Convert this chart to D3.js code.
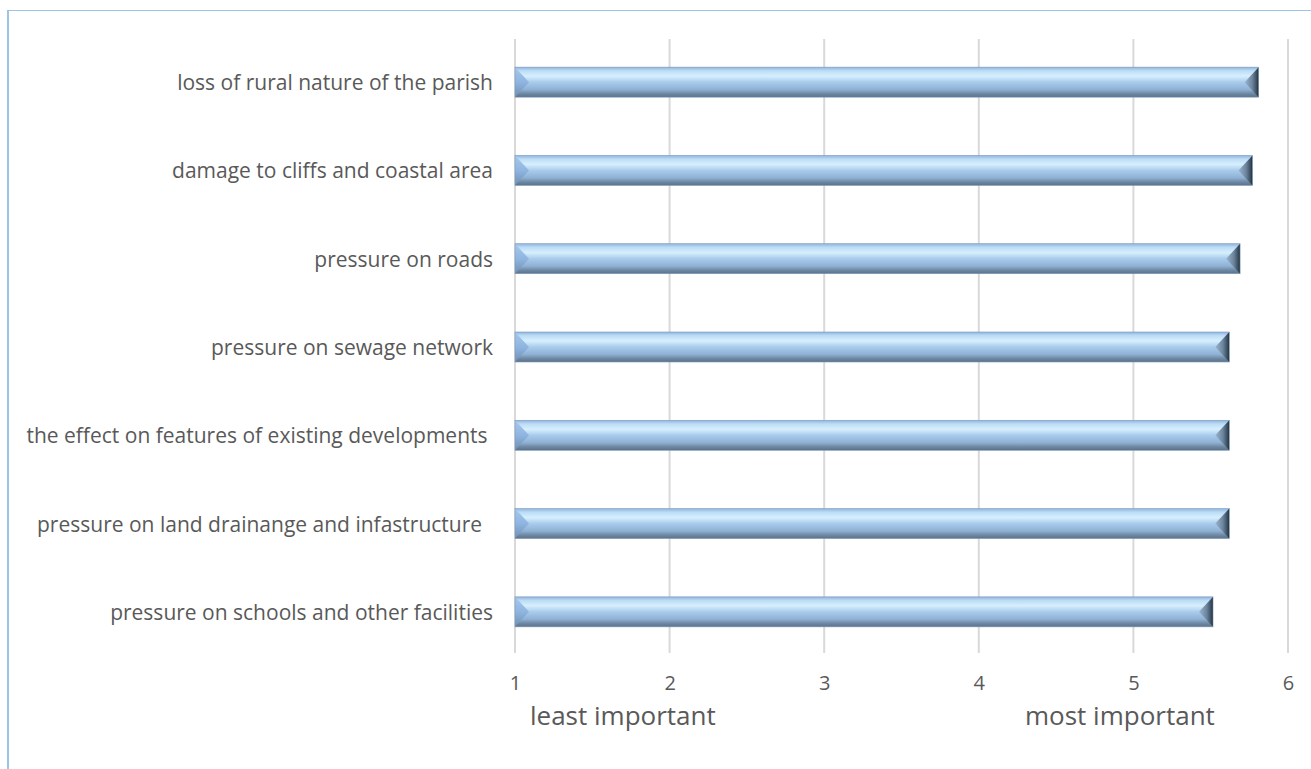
<!DOCTYPE html>
<html>
<head>
<meta charset="utf-8">
<script src="https://cdn.jsdelivr.net/npm/d3@7"></script>
<style>
  html, body { margin: 0; padding: 0; background: #fff; }
  svg { display: block; }
  text { font-family: "Open Sans", "Noto Sans", sans-serif; fill: #595959; }
</style>
</head>
<body>
<svg id="chart" width="1311" height="769"></svg>
<script>
// Concerns about new development, mean importance score (1 = least, 6 = most)
const categories = [
  "loss of rural nature of the parish",
  "damage to cliffs and coastal area",
  "pressure on roads",
  "pressure on sewage network",
  "the effect on features of existing developments ",
  "pressure on land drainange and infastructure  ",
  "pressure on schools and other facilities"
];
const scores = [5.81, 5.77, 5.69, 5.62, 5.62, 5.62, 5.515];
const tickValues = [1, 2, 3, 4, 5, 6];
const scaleNotes = ["least important", "most important"];

const svg = d3.select("#chart");
const W = 1311, H = 769;

// chart frame
svg.append("line").attr("x1", 7).attr("x2", W).attr("y1", 10.5).attr("y2", 10.5)
  .attr("stroke", "#9dc3e6").attr("stroke-width", 1);
svg.append("line").attr("x1", 8).attr("x2", 8).attr("y1", 10).attr("y2", H)
  .attr("stroke", "#9dc3e6").attr("stroke-width", 2);

const x = d3.scaleLinear().domain([1, 6]).range([515, 1288]);
const y = d3.scaleBand().domain(categories).range([38, 656])
  .paddingInner(0.66).paddingOuter(0.33);

// gradients for the bevelled bars
const defs = svg.append("defs");
const body = defs.append("linearGradient").attr("id", "barBody")
  .attr("x1", 0).attr("y1", 0).attr("x2", 0).attr("y2", 1);
[["0%", "#8fb3dc"], ["12%", "#bcdcf6"], ["30%", "#d6effd"], ["50%", "#a9cbec"],
 ["75%", "#8eb0d3"], ["88%", "#6f89a4"], ["100%", "#5a7189"]]
  .forEach(([o, c]) => body.append("stop").attr("offset", o).attr("stop-color", c));
const leftB = defs.append("linearGradient").attr("id", "barLeft")
  .attr("x1", 0).attr("y1", 0).attr("x2", 0).attr("y2", 1);
[["0%", "#a6c8ec"], ["50%", "#8fb5e0"], ["100%", "#6f8fb2"]]
  .forEach(([o, c]) => leftB.append("stop").attr("offset", o).attr("stop-color", c));
const rightB = defs.append("linearGradient").attr("id", "barRight")
  .attr("x1", 0).attr("y1", 0).attr("x2", 1).attr("y2", 0);
[["0%", "#9bb6d2"], ["55%", "#6c849c"], ["85%", "#3d5062"], ["100%", "#1f2b36"]]
  .forEach(([o, c]) => rightB.append("stop").attr("offset", o).attr("stop-color", c));

// vertical gridlines
svg.append("g").selectAll("line").data(tickValues).join("line")
  .attr("x1", d => x(d)).attr("x2", d => x(d))
  .attr("y1", 39).attr("y2", 653)
  .attr("stroke", "#d9d9d9").attr("stroke-width", 2);

// bars
const bars = svg.append("g").selectAll("g").data(categories).join("g");
const bh = y.bandwidth();
const bev = 14;
bars.append("rect")
  .attr("x", x(1)).attr("y", d => y(d))
  .attr("width", (d, i) => x(scores[i]) - x(1)).attr("height", bh)
  .attr("fill", "url(#barBody)");
bars.append("path")
  .attr("d", d => {
    const x0 = x(1), y0 = y(d);
    return `M${x0},${y0}L${x0 + bev},${y0 + bh / 2}L${x0},${y0 + bh}Z`;
  })
  .attr("fill", "url(#barLeft)");
bars.append("path")
  .attr("d", (d, i) => {
    const x1 = x(scores[i]), y0 = y(d);
    return `M${x1},${y0}L${x1 - bev},${y0 + bh / 2}L${x1},${y0 + bh}Z`;
  })
  .attr("fill", "url(#barRight)");
bars.append("rect")
  .attr("x", x(1)).attr("y", d => y(d))
  .attr("width", (d, i) => x(scores[i]) - x(1)).attr("height", bh)
  .attr("fill", "none").attr("stroke", "#7e9cbc").attr("stroke-width", 0.6);

// category labels
svg.append("g").selectAll("text").data(categories).join("text")
  .attr("x", 493).attr("y", d => y(d) + bh / 2)
  .attr("text-anchor", "end").attr("dominant-baseline", "central")
  .attr("xml:space", "preserve")
  .style("white-space", "pre")
  .attr("font-size", 21)
  .text(d => d);

// value axis labels
const xAxis = d3.axisBottom(x).tickValues(tickValues).tickFormat(d3.format("d"))
  .tickSize(0).tickPadding(0);
const ax = svg.append("g").attr("transform", "translate(0,676)").call(xAxis);
ax.select(".domain").remove();
ax.selectAll("text").attr("font-size", 20).attr("fill", "#595959")
  .style("font-family", "\"Open Sans\", sans-serif").attr("dy", "0.72em");

// scale notes
svg.append("text").attr("x", 530).attr("y", 725).attr("font-size", 26).text(scaleNotes[0]);
svg.append("text").attr("x", 1025).attr("y", 725).attr("font-size", 26).text(scaleNotes[1]);
</script>
</body>
</html>
